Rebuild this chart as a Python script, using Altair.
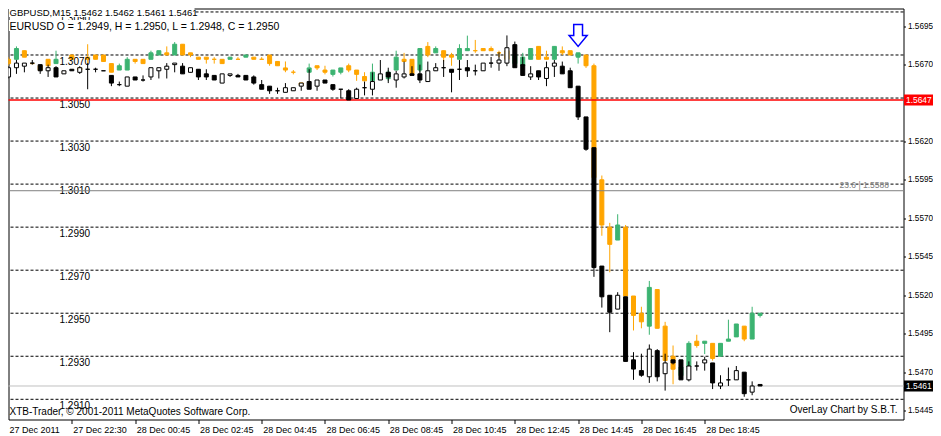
import altair as alt
import pandas as pd

# ---------------- data ----------------
bar_index = list(range(96))

gbp_open = [1.5662, 1.5668, 1.5669, 1.5671, 1.5670, 1.5666, 1.5668, 1.5664, 1.5667, 1.5665,
            1.5667, 1.5667, 1.5666, 1.5663, 1.5657, 1.5656, 1.5662, 1.5660, 1.5662, 1.5666,
            1.5667, 1.5670, 1.5669, 1.5665, 1.5667, 1.5664, 1.5663, 1.5658, 1.5663, 1.5663,
            1.5663, 1.5662, 1.5657, 1.5656, 1.5653, 1.5652, 1.5653, 1.5656, 1.5659, 1.5656,
            1.5660, 1.5657, 1.5654, 1.5653, 1.5648, 1.5655, 1.5654, 1.5660, 1.5665, 1.5660,
            1.5662, 1.5664, 1.5664, 1.5659, 1.5666, 1.5668, 1.5667, 1.5667, 1.5668, 1.5666,
            1.5666, 1.5671, 1.5671, 1.5671, 1.5683, 1.5670, 1.5662, 1.5666, 1.5661, 1.5669,
            1.5669, 1.5666, 1.5656, 1.5636, 1.5616, 1.5539, 1.5520, 1.5511, 1.5519, 1.5478,
            1.5471, 1.5467, 1.5484, 1.5469, 1.5478, 1.5478, 1.5465, 1.5474, 1.5476, 1.5476,
            1.5461, 1.5465, 1.5465, 1.5470, 1.5457, 1.5462]
gbp_high = [1.5669, 1.5673, 1.5671, 1.5673, 1.5670, 1.5670, 1.5669, 1.5666, 1.5667, 1.5669,
            1.5671, 1.5668, 1.5666, 1.5663, 1.5659, 1.5662, 1.5662, 1.5663, 1.5668, 1.5668,
            1.5671, 1.5671, 1.5671, 1.5668, 1.5667, 1.5667, 1.5663, 1.5664, 1.5664, 1.5664,
            1.5663, 1.5663, 1.5660, 1.5656, 1.5655, 1.5658, 1.5655, 1.5658, 1.5667, 1.5660,
            1.5660, 1.5657, 1.5654, 1.5654, 1.5655, 1.5659, 1.5665, 1.5673, 1.5668, 1.5666,
            1.5672, 1.5669, 1.5670, 1.5672, 1.5671, 1.5673, 1.5667, 1.5673, 1.5673, 1.5670,
            1.5671, 1.5675, 1.5678, 1.5689, 1.5685, 1.5675, 1.5669, 1.5666, 1.5672, 1.5673,
            1.5672, 1.5668, 1.5656, 1.5636, 1.5616, 1.5539, 1.5520, 1.5522, 1.5519, 1.5483,
            1.5482, 1.5488, 1.5485, 1.5482, 1.5478, 1.5478, 1.5477, 1.5477, 1.5480, 1.5476,
            1.5468, 1.5473, 1.5474, 1.5470, 1.5464, 1.5462]
gbp_low = [1.5661, 1.5664, 1.5665, 1.5670, 1.5664, 1.5662, 1.5662, 1.5664, 1.5666, 1.5664,
           1.5654, 1.5665, 1.5666, 1.5656, 1.5656, 1.5656, 1.5660, 1.5659, 1.5660, 1.5661,
           1.5661, 1.5665, 1.5664, 1.5665, 1.5660, 1.5660, 1.5660, 1.5658, 1.5662, 1.5662,
           1.5660, 1.5657, 1.5654, 1.5651, 1.5651, 1.5652, 1.5653, 1.5653, 1.5654, 1.5653,
           1.5658, 1.5653, 1.5648, 1.5647, 1.5648, 1.5650, 1.5650, 1.5660, 1.5658, 1.5655,
           1.5661, 1.5663, 1.5658, 1.5659, 1.5666, 1.5662, 1.5652, 1.5660, 1.5662, 1.5663,
           1.5666, 1.5668, 1.5666, 1.5669, 1.5668, 1.5663, 1.5660, 1.5660, 1.5656, 1.5662,
           1.5664, 1.5655, 1.5634, 1.5614, 1.5532, 1.5512, 1.5496, 1.5511, 1.5477, 1.5465,
           1.5467, 1.5463, 1.5464, 1.5458, 1.5475, 1.5465, 1.5464, 1.5471, 1.5471, 1.5459,
           1.5459, 1.5461, 1.5465, 1.5454, 1.5455, 1.5461]
gbp_close = [1.5668, 1.5671, 1.5671, 1.5671, 1.5666, 1.5668, 1.5662, 1.5666, 1.5666, 1.5668,
             1.5667, 1.5667, 1.5666, 1.5658, 1.5657, 1.5662, 1.5660, 1.5660, 1.5668, 1.5668,
             1.5669, 1.5671, 1.5664, 1.5668, 1.5662, 1.5662, 1.5660, 1.5664, 1.5664, 1.5662,
             1.5660, 1.5658, 1.5654, 1.5653, 1.5653, 1.5655, 1.5655, 1.5658, 1.5654, 1.5660,
             1.5658, 1.5654, 1.5654, 1.5647, 1.5654, 1.5655, 1.5659, 1.5664, 1.5662, 1.5664,
             1.5664, 1.5663, 1.5660, 1.5666, 1.5668, 1.5668, 1.5665, 1.5667, 1.5666, 1.5666,
             1.5671, 1.5671, 1.5673, 1.5681, 1.5668, 1.5663, 1.5664, 1.5662, 1.5668, 1.5671,
             1.5664, 1.5655, 1.5636, 1.5615, 1.5538, 1.5519, 1.5509, 1.5520, 1.5477, 1.5472,
             1.5468, 1.5485, 1.5467, 1.5476, 1.5476, 1.5465, 1.5474, 1.5474, 1.5478, 1.5463,
             1.5463, 1.5465, 1.5471, 1.5456, 1.5461, 1.5461]

eur_open = [1.3068, 1.3068, 1.3072, 1.3066, 1.3065, 1.3068, 1.3066, 1.3062, 1.3070, 1.3064,
            1.3069, 1.3070, 1.3070, 1.3066, 1.3063, 1.3063, 1.3068, 1.3068, 1.3068, 1.3070,
            1.3071, 1.3070, 1.3075, 1.3071, 1.3069, 1.3069, 1.3068, 1.3068, 1.3068, 1.3068,
            1.3069, 1.3069, 1.3068, 1.3070, 1.3067, 1.3064, 1.3062, 1.3057, 1.3062, 1.3065,
            1.3063, 1.3061, 1.3062, 1.3065, 1.3063, 1.3060, 1.3058, 1.3059, 1.3059, 1.3063,
            1.3068, 1.3068, 1.3063, 1.3074, 1.3071, 1.3072, 1.3070, 1.3068, 1.3072, 1.3072,
            1.3073, 1.3073, 1.3071, 1.3072, 1.3066, 1.3065, 1.3068, 1.3074, 1.3069, 1.3068,
            1.3072, 1.3072, 1.3069, 1.3070, 1.3065, 1.3012, 1.2990, 1.2984, 1.2990, 1.2958,
            1.2950, 1.2944, 1.2961, 1.2944, 1.2930, 1.2921, 1.2925, 1.2937, 1.2936, 1.2936,
            1.2930, 1.2937, 1.2939, 1.2944, 1.2938, 1.2949]
eur_high = [1.3069, 1.3074, 1.3072, 1.3066, 1.3065, 1.3068, 1.3072, 1.3062, 1.3070, 1.3064,
            1.3075, 1.3070, 1.3070, 1.3066, 1.3066, 1.3069, 1.3068, 1.3068, 1.3072, 1.3072,
            1.3074, 1.3076, 1.3075, 1.3071, 1.3069, 1.3069, 1.3069, 1.3068, 1.3069, 1.3069,
            1.3070, 1.3069, 1.3069, 1.3070, 1.3067, 1.3067, 1.3063, 1.3057, 1.3066, 1.3065,
            1.3065, 1.3063, 1.3064, 1.3066, 1.3063, 1.3062, 1.3066, 1.3060, 1.3063, 1.3072,
            1.3071, 1.3068, 1.3073, 1.3076, 1.3074, 1.3072, 1.3071, 1.3075, 1.3079, 1.3077,
            1.3073, 1.3074, 1.3072, 1.3073, 1.3071, 1.3071, 1.3073, 1.3074, 1.3072, 1.3074,
            1.3074, 1.3072, 1.3071, 1.3070, 1.3066, 1.3014, 1.2992, 1.2996, 1.2991, 1.2958,
            1.2953, 1.2965, 1.2961, 1.2946, 1.2935, 1.2926, 1.2937, 1.2940, 1.2937, 1.2936,
            1.2936, 1.2947, 1.2945, 1.2944, 1.2953, 1.2950]
eur_low = [1.3065, 1.3067, 1.3069, 1.3066, 1.3063, 1.3065, 1.3066, 1.3062, 1.3068, 1.3063,
           1.3066, 1.3068, 1.3067, 1.3062, 1.3063, 1.3063, 1.3066, 1.3066, 1.3068, 1.3070,
           1.3070, 1.3070, 1.3070, 1.3069, 1.3068, 1.3066, 1.3066, 1.3066, 1.3068, 1.3068,
           1.3069, 1.3068, 1.3068, 1.3065, 1.3065, 1.3062, 1.3061, 1.3056, 1.3062, 1.3063,
           1.3061, 1.3060, 1.3061, 1.3062, 1.3058, 1.3058, 1.3058, 1.3059, 1.3058, 1.3063,
           1.3067, 1.3061, 1.3062, 1.3069, 1.3071, 1.3067, 1.3065, 1.3068, 1.3072, 1.3071,
           1.3072, 1.3072, 1.3069, 1.3067, 1.3065, 1.3065, 1.3068, 1.3068, 1.3068, 1.3068,
           1.3070, 1.3070, 1.3066, 1.3064, 1.3013, 1.2986, 1.2969, 1.2984, 1.2958, 1.2942,
           1.2943, 1.2940, 1.2943, 1.2928, 1.2917, 1.2920, 1.2925, 1.2934, 1.2931, 1.2928,
           1.2930, 1.2937, 1.2939, 1.2937, 1.2938, 1.2948]
eur_close = [1.3066, 1.3073, 1.3069, 1.3066, 1.3063, 1.3065, 1.3068, 1.3062, 1.3068, 1.3063,
             1.3068, 1.3068, 1.3067, 1.3062, 1.3065, 1.3068, 1.3067, 1.3066, 1.3071, 1.3072,
             1.3070, 1.3075, 1.3070, 1.3070, 1.3068, 1.3068, 1.3068, 1.3066, 1.3069, 1.3068,
             1.3070, 1.3068, 1.3068, 1.3066, 1.3065, 1.3063, 1.3062, 1.3056, 1.3064, 1.3064,
             1.3062, 1.3063, 1.3064, 1.3063, 1.3061, 1.3058, 1.3062, 1.3060, 1.3062, 1.3069,
             1.3067, 1.3061, 1.3073, 1.3070, 1.3073, 1.3069, 1.3069, 1.3073, 1.3073, 1.3072,
             1.3072, 1.3072, 1.3071, 1.3068, 1.3070, 1.3069, 1.3073, 1.3068, 1.3068, 1.3074,
             1.3071, 1.3070, 1.3071, 1.3065, 1.3013, 1.2991, 1.2982, 1.2991, 1.2958, 1.2949,
             1.2946, 1.2962, 1.2943, 1.2928, 1.2924, 1.2925, 1.2936, 1.2935, 1.2937, 1.2929,
             1.2936, 1.2938, 1.2945, 1.2938, 1.2950, 1.2950]

eur_levels = [1.3090, 1.3070, 1.3050, 1.3030, 1.3010, 1.2990, 1.2970, 1.2950, 1.2930, 1.2910]
gbp_tick_values = [1.5445, 1.5470, 1.5495, 1.5520, 1.5545, 1.5570, 1.5595, 1.5620, 1.5670, 1.5695]
time_tick_bars = [0, 8, 16, 24, 32, 40, 48, 56, 64, 72, 80, 88]
time_tick_labels = ['27 Dec 2011', '27 Dec 22:30', '28 Dec 00:45', '28 Dec 02:45', '28 Dec 04:45',
                    '28 Dec 06:45', '28 Dec 08:45', '28 Dec 10:45', '28 Dec 12:45', '28 Dec 14:45',
                    '28 Dec 16:45', '28 Dec 18:45']
hline_prices = [1.5461, 1.5588, 1.5647]
hline_colors = ['#C0C0C0', '#808080', '#FF0000']
hline_widths = [1, 1, 1.5]
fib_level_price = [1.5588]
fib_level_text = ['23.6  |  1.5588']
marker_bar = [72]
marker_price = [1.5689]
tag_prices = [1.5647, 1.5461]
tag_colors = ['#FF0000', '#000000']

# ---------------- frames ----------------
gbp = pd.DataFrame({'n': bar_index, 'open': gbp_open, 'high': gbp_high,
                    'low': gbp_low, 'close': gbp_close})
gbp['fill'] = ['#FFFFFF' if c > o else '#000000' for o, c in zip(gbp_open, gbp_close)]
eur = pd.DataFrame({'n': bar_index, 'open': eur_open, 'high': eur_high,
                    'low': eur_low, 'close': eur_close})
eur['col'] = ['#3CB371' if c > o else '#FFA500' for o, c in zip(eur_open, eur_close)]
levels = pd.DataFrame({'level': eur_levels, 'label': [f'{v:.4f}' for v in eur_levels]})
hl = pd.DataFrame({'price': hline_prices, 'color': hline_colors, 'w': hline_widths})
fib = pd.DataFrame({'price': fib_level_price, 't': fib_level_text})
marker = pd.DataFrame({'n': marker_bar, 'price': marker_price})
tags = pd.DataFrame({'price': tag_prices, 'color': tag_colors,
                     'label': [f'{v:.4f}' for v in tag_prices]})

W, H = 895, 411
FONT = 'Liberation Sans'

label_expr = '[' + ','.join(f"'{s}'" for s in time_tick_labels) + '][round(datum.value / 8)]'
xs = alt.Scale(domain=[0.625, 112.5], nice=False, zero=False)
x_axis = alt.Axis(values=time_tick_bars[1:], labelExpr=label_expr, orient='bottom', tickSize=4,
                  tickColor='black', labelAlign='left', labelBaseline='top', labelPadding=2,
                  labelOffset=1, labelFont=FONT, labelFontSize=9, labelColor='black',
                  domain=False, grid=False, title=None, labelFlush=False, labelOverlap=False)
X = alt.X('n:Q', scale=xs, axis=x_axis)

gbp_scale = alt.Scale(domain=[1.5439212, 1.5706511], nice=False, zero=False)
gbp_axis = alt.Axis(orient='right', values=gbp_tick_values, format='.4f', tickSize=2,
                    tickColor='black', labelPadding=2, labelFont=FONT, labelFontSize=8.2,
                    labelColor='black', domain=False, grid=False, title=None,
                    labelFlush=False, labelOverlap=False)
eur_scale = alt.Scale(domain=[1.2900614, 1.3091608], nice=False, zero=False)


def gy(f):
    return alt.Y(f, scale=gbp_scale, axis=gbp_axis)


def ey(f):
    return alt.Y(f, scale=eur_scale, axis=None)


# ---------------- EUR group ----------------
grid = alt.Chart(levels).mark_rule(color='black', strokeWidth=1, strokeDash=[3, 2]).encode(
    y=ey('level:Q'))
eur_wick = alt.Chart(eur).mark_rule(strokeWidth=1, clip=True).encode(
    x=X, y=ey('low:Q'), y2='high:Q', color=alt.Color('col:N', scale=None))
eur_body = alt.Chart(eur).mark_bar(width=4, strokeWidth=1, clip=True).encode(
    x=X, y=ey('open:Q'), y2='close:Q',
    fill=alt.Fill('col:N', scale=None), stroke=alt.Stroke('col:N', scale=None))
eur_lbl = alt.Chart(levels).mark_text(align='left', baseline='alphabetic', dy=10, font=FONT,
                                      fontSize=10, color='black').encode(
    x=alt.value(51), y=ey('level:Q'), text='label:N')
eur_group = alt.layer(grid, eur_wick, eur_body, eur_lbl)

# ---------------- GBP group ----------------
hlines = alt.Chart(hl).mark_rule().encode(
    y=gy('price:Q'), color=alt.Color('color:N', scale=None),
    strokeWidth=alt.StrokeWidth('w:Q', scale=None))
fib_txt = alt.Chart(fib).mark_text(align='left', baseline='alphabetic', dy=-2.5, font=FONT,
                                   fontSize=8.5, color='#808080', clip=True).encode(
    x=alt.value(831), y=gy('price:Q'), text='t:N')
gbp_wick = alt.Chart(gbp).mark_rule(color='black', strokeWidth=1, clip=True).encode(
    x=X, y=gy('low:Q'), y2='high:Q')
gbp_body = alt.Chart(gbp).mark_bar(width=4, stroke='black', strokeWidth=1, clip=True).encode(
    x=X, y=gy('open:Q'), y2='close:Q', fill=alt.Fill('fill:N', scale=None))
ARROW = 'M -0.4 -1 L 0.4 -1 L 0.4 0 L 0.82 0 L 0 1 L -0.82 0 L -0.4 0 Z'
arrow = alt.Chart(marker).mark_point(shape=ARROW, size=484, filled=True, fill='white',
                                     stroke='#0000FF', strokeWidth=1.5, opacity=1).encode(
    x=X, y=gy('price:Q'))
tag_bg = alt.Chart(tags).mark_rule(strokeWidth=11).encode(
    x=alt.value(895.5), x2=alt.value(924.5), y=gy('price:Q'),
    color=alt.Color('color:N', scale=None))
tag_txt = alt.Chart(tags).mark_text(align='left', baseline='middle', font=FONT, fontSize=8.4,
                                    color='white').encode(
    x=alt.value(897.5), y=gy('price:Q'), text='label:N')

gbp_title = (f"GBPUSD,M15  {gbp_open[-1]:.4f} {gbp_high[-1]:.4f} "
             f"{gbp_low[-1]:.4f} {gbp_close[-1]:.4f}")
eur_title = (f"EURUSD O = {eur_open[-1]:.4f}, H = {eur_high[-1]:.4f}, "
             f"L = {eur_low[-1]:.4f}, C = {eur_close[-1]:.4f}")
one = pd.DataFrame({'t': ['x']})
bg1 = alt.Chart(one).mark_rule(color='white', strokeWidth=11).encode(
    x=alt.value(0.5), x2=alt.value(186), y=alt.value(3))
bg2 = alt.Chart(one).mark_rule(color='white', strokeWidth=11).encode(
    x=alt.value(0.5), x2=alt.value(270), y=alt.value(17))
t1 = alt.Chart(pd.DataFrame({'t': [gbp_title]})).mark_text(
    align='left', baseline='alphabetic', font=FONT, fontSize=9.5, color='black').encode(
    x=alt.value(1), y=alt.value(7), text='t:N')
t2 = alt.Chart(pd.DataFrame({'t': [eur_title]})).mark_text(
    align='left', baseline='alphabetic', font=FONT, fontSize=10.5, color='black').encode(
    x=alt.value(1), y=alt.value(21.5), text='t:N')
t3 = alt.Chart(pd.DataFrame({'t': ['XTB-Trader, \u00a9 2001-2011 MetaQuotes Software Corp.']})).mark_text(
    align='left', baseline='alphabetic', font=FONT, fontSize=10, color='black').encode(
    x=alt.value(1), y=alt.value(406), text='t:N')
t4 = alt.Chart(pd.DataFrame({'t': ['OverLay Chart by S.B.T.']})).mark_text(
    align='right', baseline='alphabetic', font=FONT, fontSize=10, color='black').encode(
    x=alt.value(889), y=alt.value(404), text='t:N')
t5 = alt.Chart(pd.DataFrame({'t': [time_tick_labels[0]]})).mark_text(
    align='left', baseline='top', font=FONT, fontSize=9, color='black').encode(
    x=alt.value(1), y=alt.value(H + 6), text='t:N')

gbp_group = alt.layer(hlines, fib_txt, gbp_wick, gbp_body, arrow, tag_bg, tag_txt,
                      bg1, bg2, t1, t2, t3, t4, t5)

chart = alt.layer(eur_group, gbp_group).resolve_scale(y='independent').properties(
    width=W, height=H,
    autosize=alt.AutoSizeParams(type='none'),
    padding={'left': 0.5, 'top': 0.5, 'right': 29.5, 'bottom': 16.5},
    background='white',
).configure_view(stroke='black', strokeWidth=1)

chart.save('out.html', embed_options={'renderer': 'svg', 'actions': False})
